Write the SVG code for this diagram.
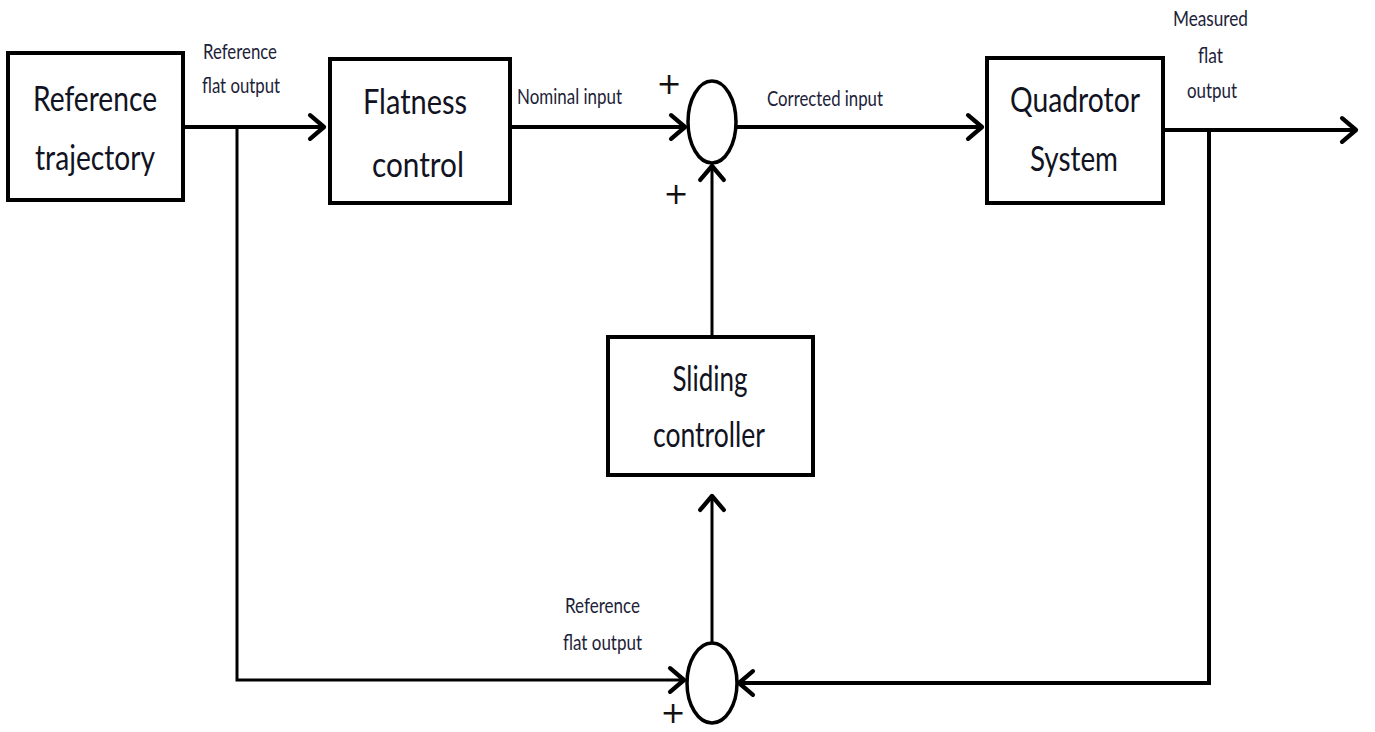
<svg xmlns="http://www.w3.org/2000/svg" width="1375" height="732" viewBox="0 0 1375 732">
<defs>
<style>
.box{fill:#fff;stroke:#000;stroke-width:4}
.sum{fill:#fff;stroke:#000;stroke-width:3.5}
.ln{fill:none;stroke:#000;stroke-width:4}
.thin{fill:none;stroke:#000;stroke-width:3}
.big{font-family:Lato,"Open Sans",sans-serif;font-size:34px;fill:#111322;text-anchor:middle}
.sm{font-family:Lato,"Open Sans",sans-serif;font-size:21px;fill:#1c2238}
.plus{font-family:"DejaVu Sans",sans-serif;font-size:30px;fill:#111;text-anchor:middle}
</style>
<marker id="arr" markerUnits="userSpaceOnUse" markerWidth="30" markerHeight="30" viewBox="-16 -14 20 28" refX="0" refY="0" orient="auto">
<path d="M-13,-11 L0,0 L-13,11" fill="none" stroke="#000" stroke-width="4" stroke-linecap="round" stroke-linejoin="round"/>
</marker>
</defs>
<rect width="1375" height="732" fill="#fff"/>
<g id="connectors">
<line class="ln" x1="183" y1="127" x2="324" y2="127" marker-end="url(#arr)"/>
<polyline class="thin" points="237,127 237,680 684,680" marker-end="url(#arr)"/>
<line class="ln" x1="510" y1="127" x2="685" y2="127" marker-end="url(#arr)"/>
<line class="ln" x1="736" y1="127" x2="982" y2="127" marker-end="url(#arr)"/>
<line class="ln" x1="1163" y1="130" x2="1356" y2="130" marker-end="url(#arr)"/>
<polyline class="ln" points="1209,130 1209,683 739,683" marker-end="url(#arr)"/>
<line class="thin" x1="712" y1="337" x2="712" y2="166" marker-end="url(#arr)"/>
<line class="thin" x1="712" y1="642" x2="712" y2="496" marker-end="url(#arr)"/>
</g>
<g id="reference-trajectory">
<rect class="box" x="8" y="53" width="175" height="147"/>
<text class="big" x="95" y="111" textLength="124" lengthAdjust="spacingAndGlyphs">Reference</text>
<text class="big" x="95" y="170" textLength="120" lengthAdjust="spacingAndGlyphs">trajectory</text>
</g>
<g id="flatness-control">
<rect class="box" x="330" y="59" width="180" height="144"/>
<text class="big" x="415" y="114" textLength="104" lengthAdjust="spacingAndGlyphs">Flatness</text>
<text class="big" x="418" y="177" textLength="92" lengthAdjust="spacingAndGlyphs">control</text>
</g>
<g id="quadrotor-system">
<rect class="box" x="987" y="58" width="176" height="145"/>
<text class="big" x="1075" y="112" textLength="130" lengthAdjust="spacingAndGlyphs">Quadrotor</text>
<text class="big" x="1074" y="171" textLength="88" lengthAdjust="spacingAndGlyphs">System</text>
</g>
<g id="sliding-controller">
<rect class="box" x="608" y="337" width="205" height="138"/>
<text class="big" x="710" y="391" textLength="75" lengthAdjust="spacingAndGlyphs">Sliding</text>
<text class="big" x="709" y="447" textLength="112" lengthAdjust="spacingAndGlyphs">controller</text>
</g>
<g id="sum-top">
<ellipse class="sum" cx="712" cy="122" rx="24" ry="41"/>
<text class="plus" x="669" y="94">+</text>
<text class="plus" x="676" y="204">+</text>
</g>
<g id="sum-bottom">
<ellipse class="sum" cx="712" cy="683" rx="25" ry="40"/>
<text class="plus" x="673" y="723">+</text>
</g>
<g id="labels">
<text class="sm" x="203" y="59" textLength="74" lengthAdjust="spacingAndGlyphs">Reference</text>
<text class="sm" x="202" y="93" textLength="78" lengthAdjust="spacingAndGlyphs">flat output</text>
<text class="sm" x="517" y="104" textLength="105" lengthAdjust="spacingAndGlyphs">Nominal input</text>
<text class="sm" x="767" y="106" textLength="116" lengthAdjust="spacingAndGlyphs">Corrected input</text>
<text class="sm" x="1173" y="26" textLength="75" lengthAdjust="spacingAndGlyphs">Measured</text>
<text class="sm" x="1198" y="63" textLength="25" lengthAdjust="spacingAndGlyphs">flat</text>
<text class="sm" x="1187" y="98" textLength="50" lengthAdjust="spacingAndGlyphs">output</text>
<text class="sm" x="565" y="613" textLength="75" lengthAdjust="spacingAndGlyphs">Reference</text>
<text class="sm" x="563" y="650" textLength="79" lengthAdjust="spacingAndGlyphs">flat output</text>
</g>
</svg>
